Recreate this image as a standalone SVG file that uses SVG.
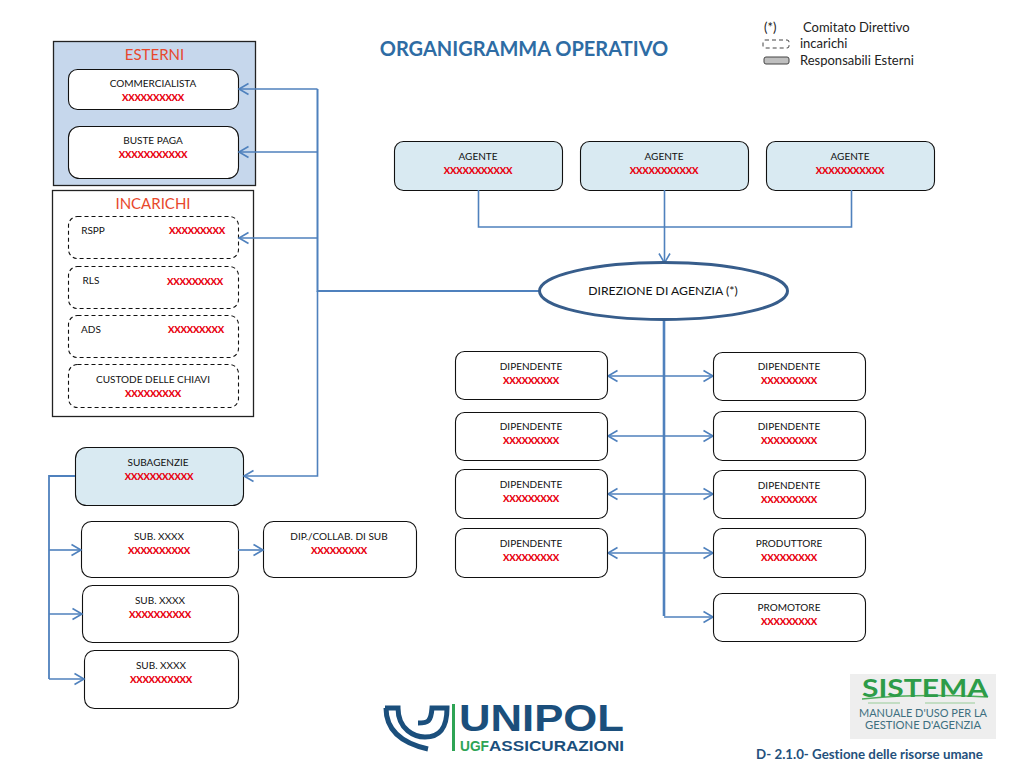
<svg xmlns="http://www.w3.org/2000/svg" width="1024" height="768" viewBox="0 0 1024 768">
<defs>
<marker id="a" markerUnits="userSpaceOnUse" markerWidth="14" markerHeight="14" refX="10" refY="7" orient="auto-start-reverse" overflow="visible"><path d="M0.5 1.5L10 7L0.5 12.5" fill="none" stroke="#4f81bd" stroke-width="1.6"/></marker>
</defs>
<style>
text{font-family:Lato,"Liberation Sans",sans-serif;text-anchor:middle;fill:#111;font-size:10px;font-variant-ligatures:none}
.r{fill:#e8000f;font-weight:900;font-size:9.500px;letter-spacing:-.25px}
.n{fill:#fff;stroke:#111;stroke-width:1.1}
.d{fill:#fff;stroke:#111;stroke-width:1.1;stroke-dasharray:4 3}
.b{fill:#d9eaf2;stroke:#111;stroke-width:1.1}
.h{font-size:15px;fill:#e8482c}
.c{fill:none;stroke:#4f81bd;stroke-width:1.6}
.m{marker-end:url(#a)}
.l{font-size:13px;text-anchor:start;fill:#222}
</style>
<rect width="1024" height="768" fill="#fff"/>
<text x="524" y="56" style="font-size:20px;font-weight:700;fill:#2e6ca4">ORGANIGRAMMA OPERATIVO</text>
<g id="legenda">
<text class="l" x="764" y="32">(*)</text><text class="l" x="803" y="32">Comitato Direttivo</text>
<rect x="763" y="40" width="26" height="8" rx="2" fill="#fff" stroke="#444" stroke-dasharray="4 3"/><text class="l" x="800" y="48">incarichi</text>
<rect x="764" y="57" width="25" height="7" rx="2" fill="#bfbfbf" stroke="#444"/><text class="l" x="800" y="65">Responsabili Esterni</text>
</g>
<g id="esterni"><rect x="53.500" y="41.500" width="202" height="144" fill="#c6d7ec" stroke="#222" stroke-width="1.3"/><text class="h" x="154.500" y="60">ESTERNI</text></g>
<g id="commercialista"><rect class="n" x="68.500" y="69.500" width="170" height="40" rx="9"/><text x="153" y="87">COMMERCIALISTA</text><text class="r" x="153" y="101">XXXXXXXXXX</text></g>
<g id="buste-paga"><rect class="n" x="68.500" y="126.500" width="170" height="52" rx="11"/><text x="153" y="144">BUSTE PAGA</text><text class="r" x="153" y="158">XXXXXXXXXXX</text></g>
<g id="incarichi"><rect x="52.500" y="190.500" width="201" height="226" fill="#fff" stroke="#222" stroke-width="1.3"/><text class="h" x="153" y="209">INCARICHI</text></g>
<g id="rspp"><rect class="d" x="68.500" y="216.500" width="170" height="42" rx="9"/><text x="93" y="234">RSPP</text><text class="r" x="197" y="234">XXXXXXXXX</text></g>
<g id="rls"><rect class="d" x="68.500" y="266.500" width="170" height="42" rx="9"/><text x="91" y="284">RLS</text><text class="r" x="195" y="285">XXXXXXXXX</text></g>
<g id="ads"><rect class="d" x="68.500" y="315.500" width="170" height="42" rx="9"/><text x="91" y="333">ADS</text><text class="r" x="196" y="333">XXXXXXXXX</text></g>
<g id="custode"><rect class="d" x="68.500" y="364.500" width="170" height="43" rx="9"/><text x="153" y="383">CUSTODE DELLE CHIAVI</text><text class="r" x="153" y="397">XXXXXXXXX</text></g>
<g id="subagenzie"><rect class="b" x="75.500" y="447.500" width="168" height="58" rx="11"/><text x="158" y="466">SUBAGENZIE</text><text class="r" x="159" y="480">XXXXXXXXXXX</text></g>
<g id="sub1"><rect class="n" x="81.500" y="521.500" width="157" height="56" rx="10"/><text x="159" y="540">SUB. XXXX</text><text class="r" x="159" y="554">XXXXXXXXXX</text></g>
<g id="sub2"><rect class="n" x="82.500" y="585.500" width="156" height="57" rx="10"/><text x="160" y="604">SUB. XXXX</text><text class="r" x="160" y="618">XXXXXXXXXX</text></g>
<g id="sub3"><rect class="n" x="84.500" y="650.500" width="154" height="58" rx="10"/><text x="161" y="669">SUB. XXXX</text><text class="r" x="161" y="683">XXXXXXXXXX</text></g>
<g id="dip-sub"><rect class="n" x="263.500" y="521.500" width="153" height="56" rx="10"/><text x="339" y="540">DIP./COLLAB. DI SUB</text><text class="r" x="339" y="554">XXXXXXXXX</text></g>
<g id="agente1"><rect class="b" x="394.500" y="141.500" width="168" height="49" rx="9"/><text x="478" y="160">AGENTE</text><text class="r" x="478" y="174">XXXXXXXXXXX</text></g>
<g id="agente2"><rect class="b" x="580.500" y="141.500" width="168" height="49" rx="9"/><text x="664" y="160">AGENTE</text><text class="r" x="664" y="174">XXXXXXXXXXX</text></g>
<g id="agente3"><rect class="b" x="766.500" y="141.500" width="168" height="49" rx="9"/><text x="850" y="160">AGENTE</text><text class="r" x="850" y="174">XXXXXXXXXXX</text></g>
<g id="connettori">
<path class="c" d="M478.500 190V227H851.500V190"/>
<path class="c m" d="M664.500 190V263"/>
<path d="M540 291H317.500V89" fill="none" stroke="#4f81bd" stroke-width="2"/>
<path class="c m" d="M317.500 89H239"/>
<path class="c m" d="M317.500 152H239"/>
<path class="c m" d="M317.500 238H239"/>
<path class="c m" d="M317.500 291V476H244"/>
<path d="M664 320V616" fill="none" stroke="#4f81bd" stroke-width="2.600"/>
<path class="c m" d="M664 376H608"/><path class="c m" d="M664 376H713"/>
<path class="c m" d="M664 436H608"/><path class="c m" d="M664 436H713"/>
<path class="c m" d="M664 494H608"/><path class="c m" d="M664 494H713"/>
<path class="c m" d="M664 553H608"/><path class="c m" d="M664 553H713"/>
<path class="c m" d="M664 617H713"/>
<path d="M75 476H49V679" fill="none" stroke="#4f81bd" stroke-width="1.800"/>
<path class="c m" d="M49 550H81"/><path class="c m" d="M49 614H82"/><path class="c m" d="M49 679H84"/>
<path class="c m" d="M238 550H263"/>
</g>
<g id="direzione"><ellipse cx="663.500" cy="291" rx="124" ry="28.500" fill="#fff" stroke="#375d8b" stroke-width="3"/><text x="663" y="295" style="font-size:12.200px">DIREZIONE DI AGENZIA (*)</text></g>
<g id="dip-l1"><rect class="n" x="455.500" y="351.500" width="152" height="48" rx="9"/><text x="531" y="370">DIPENDENTE</text><text class="r" x="531" y="384">XXXXXXXXX</text></g>
<g id="dip-l2"><rect class="n" x="455.500" y="412.500" width="152" height="48" rx="9"/><text x="531" y="430">DIPENDENTE</text><text class="r" x="531" y="444">XXXXXXXXX</text></g>
<g id="dip-l3"><rect class="n" x="455.500" y="469.500" width="152" height="49" rx="9"/><text x="531" y="488">DIPENDENTE</text><text class="r" x="531" y="502">XXXXXXXXX</text></g>
<g id="dip-l4"><rect class="n" x="455.500" y="528.500" width="152" height="49" rx="9"/><text x="531" y="547">DIPENDENTE</text><text class="r" x="531" y="561">XXXXXXXXX</text></g>
<g id="dip-r1"><rect class="n" x="713.500" y="352.500" width="152" height="48" rx="9"/><text x="789" y="370">DIPENDENTE</text><text class="r" x="789" y="384">XXXXXXXXX</text></g>
<g id="dip-r2"><rect class="n" x="713.500" y="411.500" width="152" height="49" rx="9"/><text x="789" y="430">DIPENDENTE</text><text class="r" x="789" y="444">XXXXXXXXX</text></g>
<g id="dip-r3"><rect class="n" x="713.500" y="470.500" width="152" height="48" rx="9"/><text x="789" y="489">DIPENDENTE</text><text class="r" x="789" y="503">XXXXXXXXX</text></g>
<g id="produttore"><rect class="n" x="713.500" y="528.500" width="152" height="49" rx="9"/><text x="789" y="547">PRODUTTORE</text><text class="r" x="789" y="561">XXXXXXXXX</text></g>
<g id="promotore"><rect class="n" x="713.500" y="593.500" width="152" height="48" rx="9"/><text x="789" y="611">PROMOTORE</text><text class="r" x="789" y="625">XXXXXXXXX</text></g>
<g id="logo-unipol">
<path d="M386 708C386 735 410 745 428 749" fill="none" stroke="#1b4f7c" stroke-width="5"/>
<path d="M385 708H398C398 730 415 737 425 737C440 737 447 728 447 708H432C431 722 428 723 418 723" fill="none" stroke="#1b4f7c" stroke-width="5"/>
<rect x="452" y="704" width="3" height="47" fill="#2ea455"/>
<text x="459" y="731" style="font-size:36px;font-family:'Liberation Sans';font-weight:700;fill:#1b4f7c;text-anchor:start" textLength="165" lengthAdjust="spacingAndGlyphs">UNIPOL</text>
<text x="460" y="751" style="font-size:14px;font-family:'Liberation Sans';font-weight:700;fill:#2ea455;text-anchor:start" textLength="29" lengthAdjust="spacingAndGlyphs">UGF</text>
<text x="489" y="751" style="font-size:14px;font-family:'Liberation Sans';font-weight:700;fill:#1b4f7c;text-anchor:start" textLength="135" lengthAdjust="spacingAndGlyphs">ASSICURAZIONI</text>
</g>
<g id="logo-sistema">
<rect x="850" y="674" width="146" height="65" fill="#eeeeee"/>
<path d="M862 699C900 695 950 695 988 697" fill="none" stroke="#4fae5c" stroke-width="1.500"/>
<path d="M868 703H900M925 703H975" fill="none" stroke="#b5d8b5" stroke-width="1.500"/>
<text x="925" y="697" style="font-size:24px;font-weight:700;fill:#2d9c48" textLength="126" lengthAdjust="spacingAndGlyphs">SISTEMA</text>
<text x="923" y="717" style="font-size:10.500px;fill:#3d6f80" textLength="128" lengthAdjust="spacingAndGlyphs">MANUALE D'USO PER LA</text>
<text x="923" y="729" style="font-size:10.500px;fill:#3d6f80" textLength="116" lengthAdjust="spacingAndGlyphs">GESTIONE D'AGENZIA</text>
</g>
<text x="869.500" y="759" style="font-size:13.300px;font-weight:700;fill:#24507c">D- 2.1.0- Gestione delle risorse umane</text>
</svg>
